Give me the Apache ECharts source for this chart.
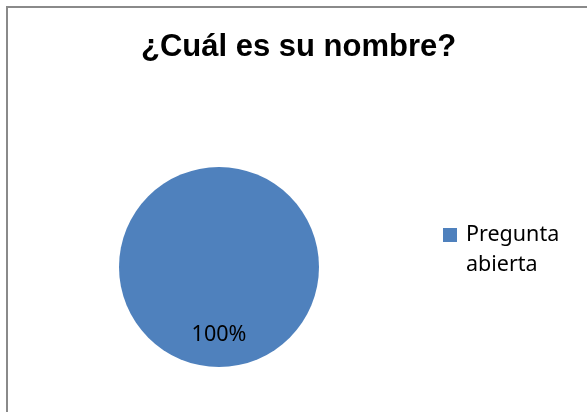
<!DOCTYPE html>
<html>
<head>
<meta charset="utf-8">
<script src="https://cdn.jsdelivr.net/npm/echarts@6/dist/echarts.min.js"></script>
<style>
html,body{margin:0;padding:0;background:#fff;}
#chart{width:587px;height:412px;}
</style>
</head>
<body>
<div id="chart"></div>
<script>
const titleText = '¿Cuál es su nombre?';
const categories = ['Pregunta abierta'];
const values = [100];

const chart = echarts.init(document.getElementById('chart'), null, {renderer: 'canvas'});
chart.setOption({
  animation: false,
  backgroundColor: '#ffffff',
  graphic: [{
    type: 'rect',
    shape: {x: 7, y: 7, width: 620, height: 440},
    style: {fill: 'none', stroke: '#8a8a8a', lineWidth: 2},
    silent: true,
    z: -1
  }],
  title: {
    text: titleText,
    left: 141,
    top: 32,
    padding: 0,
    textStyle: {
      fontFamily: 'Liberation Sans, Arial, sans-serif',
      fontWeight: 'bold',
      fontSize: 31,
      color: '#000'
    }
  },
  legend: {
    orient: 'vertical',
    left: 443,
    top: 220,
    padding: 0,
    itemWidth: 14,
    itemHeight: 44,
    icon: 'path://M0,0L14,0L14,14L0,14Z M0,44L14,44',
    formatter: function (name) { return name.replace(' ', '\n'); },
    textStyle: {
      fontFamily: 'Noto Sans, sans-serif',
      fontSize: 21.5,
      lineHeight: 30,
      color: '#000',
      padding: [0, 0, 0, 4]
    },
    data: categories
  },
  series: [{
    type: 'pie',
    center: [219, 267],
    radius: 100,
    startAngle: 90,
    color: ['#4F81BD'],
    itemStyle: {color: '#4F81BD', borderWidth: 0},
    label: {
      show: true,
      position: 'inside',
      formatter: '{d}%',
      fontFamily: 'Noto Sans, sans-serif',
      fontSize: 21.5,
      color: '#000'
    },
    labelLayout: {dy: 15},
    emphasis: {disabled: true},
    data: categories.map((c, i) => ({name: c, value: values[i]}))
  }]
});
</script>
</body>
</html>
